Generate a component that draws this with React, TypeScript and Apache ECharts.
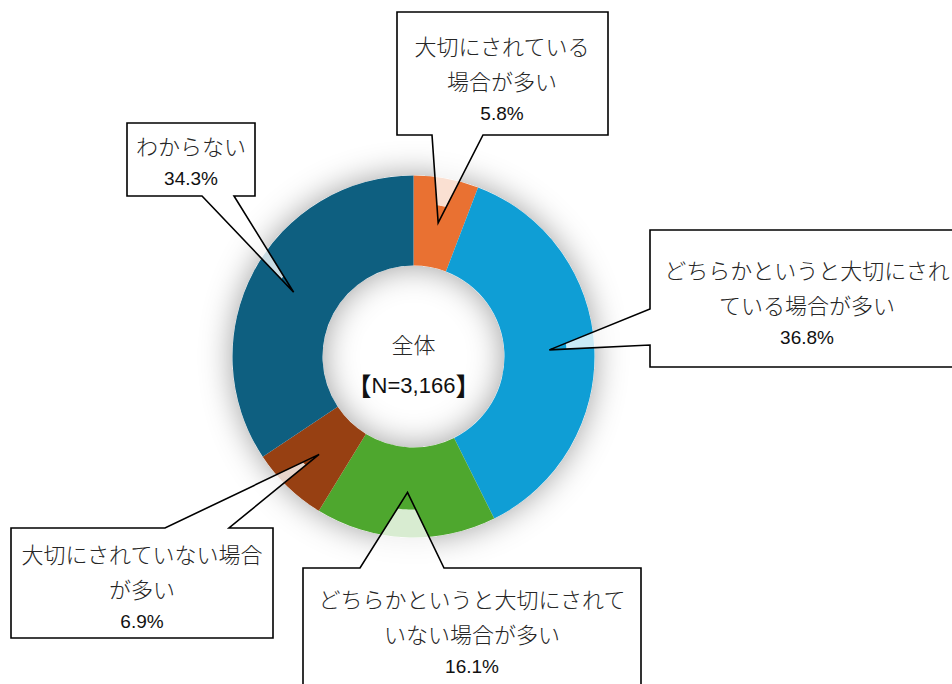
import React, { useEffect, useRef } from "react";
import * as echarts from "echarts";

// ---- data ----
const categories: string[] = [
  "大切にされている場合が多い",
  "どちらかというと大切にされている場合が多い",
  "どちらかというと大切にされていない場合が多い",
  "大切にされていない場合が多い",
  "わからない",
];
const values: number[] = [5.8, 36.8, 16.1, 6.9, 34.3];
const centerTitle = "全体";
const centerN = "N=3,166";

// ---- style / layout ----
const colors = ["#E97132", "#0F9ED5", "#4EA72E", "#974012", "#0E5F80"];
const CX = 413.5;
const CY = 356.5;
const R_IN = 91;
const R_OUT = 181;
const R_TINT = 153;

type Callout = {
  x: number; y: number; w: number; h: number;
  side: "top" | "bottom" | "left";
  b1: number; b2: number;
  wrap: number | null;
  tx: number; ty: number;
};
const callouts: Callout[] = [
  { x: 397, y: 12, w: 211, h: 123, side: "bottom", b1: 432, b2: 483, wrap: 8, tx: 502, ty: 45 },
  { x: 650, y: 230, w: 314, h: 137, side: "left", b1: 309, b2: 345, wrap: 13, tx: 807, ty: 269 },
  { x: 303, y: 568, w: 338, h: 130, side: "top", b1: 360, b2: 444, wrap: 14, tx: 472, ty: 598 },
  { x: 11, y: 528, w: 262, h: 110, side: "top", b1: 165, b2: 229, wrap: 11, tx: 142, ty: 553 },
  { x: 127, y: 123, w: 128, h: 73, side: "bottom", b1: 202, b2: 234, wrap: null, tx: 191, ty: 145 },
];

const JP_FONT = "'Noto Sans CJK JP', 'Noto Sans', sans-serif";
const NUM_FONT = "'Liberation Sans', Arial, sans-serif";

function circleHit(tx: number, ty: number, px: number, py: number, r: number): [number, number] {
  const dx = px - tx, dy = py - ty;
  const fx = tx - CX, fy = ty - CY;
  const a = dx * dx + dy * dy;
  const b = 2 * (fx * dx + fy * dy);
  const c = fx * fx + fy * fy - r * r;
  const disc = Math.max(0, b * b - 4 * a * c);
  const t = (-b + Math.sqrt(disc)) / (2 * a);
  return [tx + t * dx, ty + t * dy];
}

export default function App() {
  const ref = useRef<HTMLDivElement>(null);
  useEffect(() => {
    if (!ref.current) return;
    const chart = echarts.init(ref.current, null, { renderer: "svg" });
    const total = values.reduce((a, b) => a + b, 0);
    let cum = 0;
    const rMid = (R_IN + R_OUT) / 2;
    const tips = values.map((v) => {
      const mid = ((cum + v / 2) / total) * Math.PI * 2;
      cum += v;
      return [CX + rMid * Math.sin(mid), CY - rMid * Math.cos(mid)] as [number, number];
    });

    const elements: any[] = [];
    callouts.forEach((c, i) => {
      const tip = tips[i];
      let P1: [number, number], P2: [number, number];
      let outline: number[][];
      if (c.side === "bottom") {
        P1 = [c.b1, c.y + c.h]; P2 = [c.b2, c.y + c.h];
        outline = [[c.x, c.y], [c.x + c.w, c.y], [c.x + c.w, c.y + c.h], P2, tip, P1, [c.x, c.y + c.h]];
      } else if (c.side === "top") {
        P1 = [c.b1, c.y]; P2 = [c.b2, c.y];
        outline = [[c.x, c.y], P1, tip, P2, [c.x + c.w, c.y], [c.x + c.w, c.y + c.h], [c.x, c.y + c.h]];
      } else {
        P1 = [c.x, c.b1]; P2 = [c.x, c.b2];
        outline = [[c.x, c.y], [c.x + c.w, c.y], [c.x + c.w, c.y + c.h], [c.x, c.y + c.h], P2, tip, P1];
      }
      elements.push({
        type: "rect", z: 10, silent: true,
        shape: { x: c.x, y: c.y, width: c.w, height: c.h },
        style: { fill: "#fff" },
      });
      const A1 = circleHit(tip[0], tip[1], P1[0], P1[1], R_TINT);
      const A2 = circleHit(tip[0], tip[1], P2[0], P2[1], R_TINT);
      const a1 = Math.atan2(A1[1] - CY, A1[0] - CX);
      const a2 = Math.atan2(A2[1] - CY, A2[0] - CX);
      let d = a1 - a2;
      while (d > Math.PI) d -= 2 * Math.PI;
      while (d < -Math.PI) d += 2 * Math.PI;
      const arc: number[][] = [];
      for (let k = 1; k < 10; k++) {
        const a = a2 + (d * k) / 10;
        arc.push([CX + R_TINT * Math.cos(a), CY + R_TINT * Math.sin(a)]);
      }
      elements.push({
        type: "polygon", z: 11, silent: true,
        shape: { points: [A1, P1, P2, A2, ...arc] },
        style: { fill: "rgba(255,255,255,0.78)" },
      });
      elements.push({
        type: "polygon", z: 12, silent: true,
        shape: { points: outline },
        style: { fill: "none", stroke: "#000", lineWidth: 1.6, lineJoin: "miter" },
      });
      const name = categories[i];
      const lines = c.wrap ? [name.slice(0, c.wrap), name.slice(c.wrap)] : [name];
      let y = c.ty;
      lines.forEach((ln, k) => {
        if (k > 0) y += 35;
        elements.push({
          type: "text", z: 13, silent: true,
          style: {
            text: ln, x: c.tx, y, align: "center", verticalAlign: "middle",
            fontSize: 22, fontFamily: JP_FONT, fontWeight: 300, fill: "#262626",
          },
        });
      });
      y += 33;
      elements.push({
        type: "text", z: 13, silent: true,
        style: {
          text: values[i].toFixed(1) + "%", x: c.tx, y, align: "center", verticalAlign: "middle",
          fontSize: 19, fontFamily: NUM_FONT, fill: "#111",
        },
      });
    });
    elements.push({
      type: "text", z: 13, silent: true,
      style: {
        text: centerTitle, x: CX, y: 343, align: "center", verticalAlign: "middle",
        fontSize: 22, fontFamily: JP_FONT, fontWeight: 300, fill: "#262626",
      },
    });
    elements.push({
      type: "text", z: 13, silent: true,
      style: {
        text: centerN, x: CX, y: 385, align: "center", verticalAlign: "middle",
        fontSize: 22, fontFamily: NUM_FONT, fill: "#111",
      },
    });
    elements.push({
      type: "text", z: 13, silent: true,
      style: {
        text: "【", x: CX - 42, y: 385, align: "right", verticalAlign: "middle",
        fontSize: 25, fontFamily: JP_FONT, fontWeight: "bold", fill: "#111",
      },
    });
    elements.push({
      type: "text", z: 13, silent: true,
      style: {
        text: "】", x: CX + 42, y: 385, align: "left", verticalAlign: "middle",
        fontSize: 25, fontFamily: JP_FONT, fontWeight: "bold", fill: "#111",
      },
    });

    chart.setOption({
      animation: false,
      backgroundColor: "#fff",
      series: [
        {
          type: "pie",
          center: [CX, CY],
          radius: [R_IN, R_OUT],
          silent: true,
          z: 1,
          label: { show: false },
          labelLine: { show: false },
          data: [{ value: 1 }],
          itemStyle: { color: "#fff", shadowBlur: 32, shadowColor: "rgba(0,0,0,0.38)" },
        },
        {
          type: "pie",
          center: [CX, CY],
          radius: [R_IN, R_OUT],
          startAngle: 90,
          clockwise: true,
          silent: true,
          z: 2,
          label: { show: false },
          labelLine: { show: false },
          itemStyle: { borderWidth: 0 },
          data: categories.map((n, i) => ({ name: n, value: values[i], itemStyle: { color: colors[i] } })),
        },
      ],
      graphic: { elements },
    });
    return () => chart.dispose();
  }, []);
  return (
    <div
      ref={ref}
      style={{ position: "fixed", left: 0, top: 0, width: 952, height: 684 }}
    />
  );
}
